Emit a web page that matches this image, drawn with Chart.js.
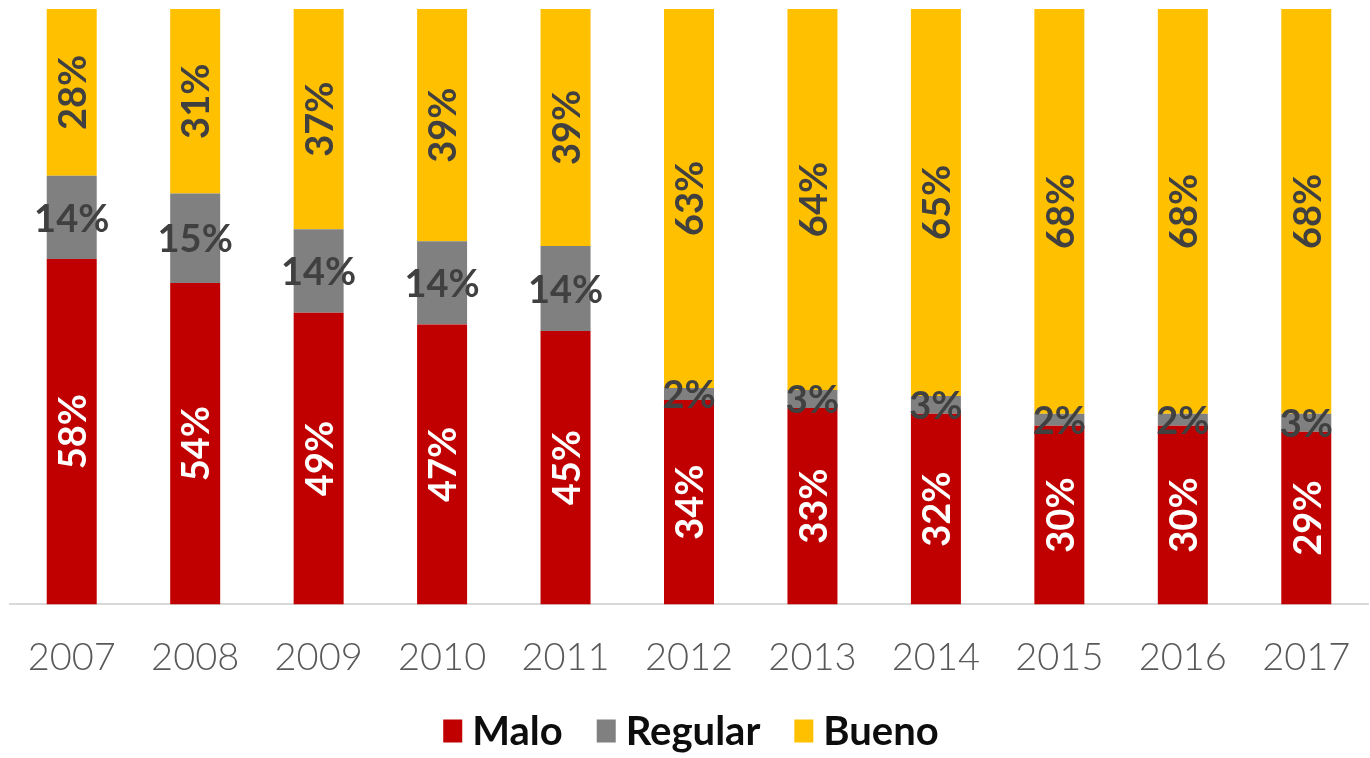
<!DOCTYPE html>
<html>
<head>
<meta charset="utf-8">
<script src="https://cdn.jsdelivr.net/npm/chart.js@4.4.0/dist/chart.umd.min.js"></script>
<style>
  html, body { margin: 0; padding: 0; background: #ffffff; }
  .chart { width: 1370px; height: 758px; }
</style>
</head>
<body>
<div class="chart"><canvas></canvas></div>
<script>
// data
const years = ["2007", "2008", "2009", "2010", "2011", "2012", "2013", "2014", "2015", "2016", "2017"];
const malo = [58, 54, 49, 47, 45, 34, 33, 32, 30, 30, 29];
const regular = [14, 15, 14, 14, 14, 2, 3, 3, 2, 2, 3];
const bueno = [28, 31, 37, 39, 39, 63, 64, 65, 68, 68, 68];

// each bar is a 100% stack, so scale each year to its own total
const totals = years.map((y, i) => malo[i] + regular[i] + bueno[i]);
const share = (list) => list.map((v, i) => v / totals[i] * 100);

const labelFont = "Lato, 'Open Sans', sans-serif";

// draws the % labels inside each segment
const segmentLabels = {
    id: "segmentLabels",
    afterDatasetsDraw(chart) {
        const ctx = chart.ctx;
        chart.data.datasets.forEach((ds, di) => {
            const meta = chart.getDatasetMeta(di);
            meta.data.forEach((bar, i) => {
                const p = bar.getProps(["x", "y", "base"], true);
                const cy = (p.y + p.base) / 2;
                ctx.save();
                ctx.fillStyle = ds.labelColor;
                ctx.font = "bold 38px " + labelFont;
                ctx.textAlign = "center";
                ctx.textBaseline = "middle";
                ctx.translate(p.x, cy);
                if (ds.rotateLabel) ctx.rotate(-Math.PI / 2);
                ctx.fillText(ds.raw[i] + "%", 0, 2);
                ctx.restore();
            });
        });
    }
};

// legend at the bottom, drawn by hand so the gaps match
const bottomLegend = {
    id: "bottomLegend",
    afterDraw(chart) {
        const ctx = chart.ctx;
        const cy = 731;
        const boxW = 19, boxH = 23, textGap = 10, itemGap = 34;
        ctx.save();
        ctx.font = "bold 40px " + labelFont;
        ctx.textBaseline = "middle";
        const items = chart.data.datasets.map(ds => ({
            text: ds.label,
            color: ds.backgroundColor,
            w: boxW + textGap + ctx.measureText(ds.label).width
        }));
        const total = items.reduce((s, it) => s + it.w, 0) + itemGap * (items.length - 1);
        let x = (chart.width - total) / 2 + 6;
        items.forEach(it => {
            ctx.fillStyle = it.color;
            ctx.fillRect(x, cy - boxH / 2, boxW, boxH);
            ctx.fillStyle = "#0d0d0d";
            ctx.fillText(it.text, x + boxW + textGap, cy + 1);
            x += it.w + itemGap;
        });
        ctx.restore();
    }
};

const myChart = new Chart(
    document.querySelector(".chart canvas"),
    {
        type: "bar",
        data: {
            labels: years,
            datasets: [
                { label: "Malo", data: share(malo), raw: malo, backgroundColor: "#C00000", labelColor: "#ffffff", rotateLabel: true },
                { label: "Regular", data: share(regular), raw: regular, backgroundColor: "#808080", labelColor: "#404040", rotateLabel: false },
                { label: "Bueno", data: share(bueno), raw: bueno, backgroundColor: "#FFC000", labelColor: "#404040", rotateLabel: true }
            ]
        },
        options: {
            responsive: true,
            maintainAspectRatio: false,
            animation: false,
            layout: { padding: { left: 10, right: 2, top: 9, bottom: 46 } },
            datasets: {
                bar: { categoryPercentage: 0.405, barPercentage: 1 }
            },
            scales: {
                x: {
                    stacked: true,
                    grid: { display: false, drawTicks: false },
                    border: { display: true, color: "#d9d9d9", width: 2 },
                    ticks: {
                        color: "#595959",
                        padding: 31,
                        font: { size: 38, family: labelFont, weight: "300" }
                    },
                    // labels sit inside their categories, no extra side room needed
                    afterFit(scale) {
                        scale.paddingLeft = 0;
                        scale.paddingRight = 0;
                    }
                },
                y: {
                    stacked: true,
                    display: false,
                    min: 0,
                    max: 100
                }
            },
            plugins: {
                tooltip: { enabled: false },
                legend: { display: false }
            }
        },
        plugins: [segmentLabels, bottomLegend]
    }
);
</script>
</body>
</html>
